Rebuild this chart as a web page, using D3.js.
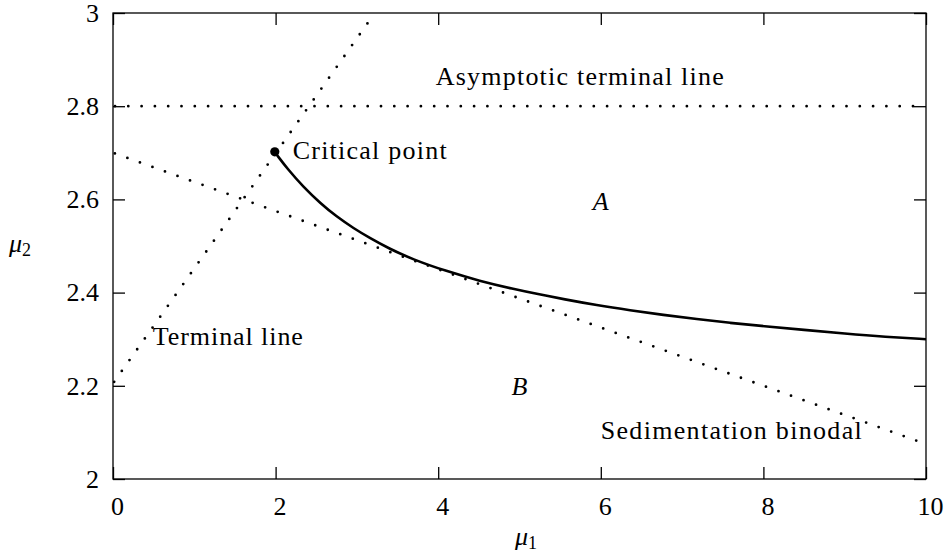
<!DOCTYPE html>
<html>
<head>
<meta charset="utf-8">
<script src="https://cdn.jsdelivr.net/npm/d3@7"></script>
<style>
  html, body { margin: 0; padding: 0; background: #fff; }
  svg { display: block; }
</style>
</head>
<body>
<svg id="chart" width="946" height="556"></svg>
<script>
// Axis ticks
const xTicks = [0, 2, 4, 6, 8, 10];
const yTicks = [2, 2.2, 2.4, 2.6, 2.8, 3];

// Coexistence curve (mu1, mu2) running from the critical point
const coexistence = [
  [1.99, 2.702], [2.03, 2.692], [2.15, 2.665], [2.34, 2.627], [2.55, 2.592],
  [2.75, 2.563], [2.96, 2.538], [3.16, 2.517], [3.39, 2.495], [3.69, 2.471],
  [4.10, 2.446], [4.51, 2.425], [4.92, 2.408], [5.25, 2.396], [5.54, 2.386],
  [5.95, 2.373], [6.36, 2.362], [6.77, 2.352], [7.18, 2.343], [7.59, 2.335],
  [8.00, 2.328], [8.50, 2.320], [9.00, 2.312], [9.50, 2.305], [10.0, 2.300]
];

// Straight reference lines
const terminalLine = [[0, 2.205], [3.22, 3.0]];
const binodal = [[0, 2.70], [10, 2.075]];
const asymptote = [[0, 2.8], [10, 2.8]];

// Critical point
const criticalPoint = [1.99, 2.702];

// Text annotations: [text, mu1, mu2, italic, width]
const annotations = [
  ["Asymptotic terminal line", 3.97, 2.845, false, 288],
  ["Critical point", 2.21, 2.687, false, 154],
  ["Terminal line", 0.49, 2.288, false, 150],
  ["Sedimentation binodal", 5.999, 2.085, false, 261],
  ["A", 6.0, 2.578, true, 0],
  ["B", 5.0, 2.181, true, 0]
];

const FONT = '"Liberation Serif", Tinos, "Times New Roman", "DejaVu Serif", "Noto Serif", serif';

const W = 946, H = 556;
const margin = { left: 113, right: 20, top: 13, bottom: 77 };
const x = d3.scaleLinear().domain([0, 10]).range([margin.left, W - margin.right]);
const y = d3.scaleLinear().domain([2, 3]).range([H - margin.bottom, margin.top]);

const svg = d3.select("#chart");

svg.append("defs").append("clipPath").attr("id", "plot-clip")
  .append("rect")
  .attr("x", x(0)).attr("y", y(3))
  .attr("width", x(10) - x(0)).attr("height", y(2) - y(3));

const line = d3.line().x(d => x(d[0])).y(d => y(d[1]));

const plot = svg.append("g").attr("clip-path", "url(#plot-clip)");

// Dotted reference lines
[asymptote, binodal, terminalLine].forEach(pts => {
  plot.append("path")
    .attr("d", line(pts))
    .attr("fill", "none")
    .attr("stroke", "#000")
    .attr("stroke-width", 2.8)
    .attr("stroke-linecap", "round")
    .attr("stroke-dasharray", "0 13.3")
    .attr("stroke-dashoffset", -2);
});

// Coexistence curve
plot.append("path")
  .attr("d", d3.line().x(d => x(d[0])).y(d => y(d[1])).curve(d3.curveBasis)(coexistence))
  .attr("fill", "none")
  .attr("stroke", "#000")
  .attr("stroke-width", 2.6);

svg.append("circle")
  .attr("cx", x(criticalPoint[0])).attr("cy", y(criticalPoint[1]))
  .attr("r", 4.6).attr("fill", "#000");

// Axes with inward ticks on all four sides
const tickLen = 12;
const fontSize = 26;

const gx = svg.append("g").attr("transform", `translate(0,${y(2)})`)
  .call(d3.axisBottom(x).tickValues(xTicks).tickSize(-tickLen).tickFormat(d3.format("d")));
gx.selectAll("text").attr("y", 36).attr("dy", null).attr("dx", 4);

svg.append("g").attr("transform", `translate(0,${y(3)})`)
  .call(d3.axisTop(x).tickValues(xTicks).tickSize(-tickLen).tickFormat(""));

const gy = svg.append("g").attr("transform", `translate(${x(0)},0)`)
  .call(d3.axisLeft(y).tickValues(yTicks).tickSize(-tickLen).tickPadding(14)
    .tickFormat(d => (d === 2 || d === 3) ? d3.format("d")(d) : d3.format(".1f")(d)));
gy.selectAll("text").attr("dy", "0.32em");

svg.append("g").attr("transform", `translate(${x(10)},0)`)
  .call(d3.axisRight(y).tickValues(yTicks).tickSize(-tickLen).tickFormat(""));

svg.selectAll(".domain").remove();
svg.selectAll(".tick line").attr("stroke", "#000").attr("stroke-width", 1.3);
svg.selectAll("g").attr("font-family", FONT).attr("font-size", fontSize);
svg.selectAll(".tick text").attr("fill", "#000");

// Frame
svg.append("rect")
  .attr("x", x(0)).attr("y", y(3))
  .attr("width", x(10) - x(0)).attr("height", y(2) - y(3))
  .attr("fill", "none").attr("stroke", "#000").attr("stroke-width", 1.3);

// Annotations
annotations.forEach(([t, mx, my, ital, w]) => {
  const el = svg.append("text")
    .attr("x", x(mx)).attr("y", y(my))
    .attr("font-family", FONT)
    .attr("font-size", fontSize)
    .attr("font-style", ital ? "italic" : "normal")
    .attr("text-anchor", ital ? "middle" : "start")
    .text(t);
  if (w) el.attr("textLength", w).attr("lengthAdjust", "spacing");
});

// Axis titles
const xl = svg.append("text").attr("x", 515).attr("y", 545)
  .attr("font-family", FONT).attr("font-size", fontSize);
xl.append("tspan").attr("font-style", "italic").text("μ");
xl.append("tspan").attr("dy", 4).attr("font-size", 18).text("1");

const yl = svg.append("text").attr("x", 9).attr("y", 252)
  .attr("font-family", FONT).attr("font-size", fontSize);
yl.append("tspan").attr("font-style", "italic").text("μ");
yl.append("tspan").attr("dy", 4).attr("font-size", 18).text("2");
</script>
</body>
</html>
